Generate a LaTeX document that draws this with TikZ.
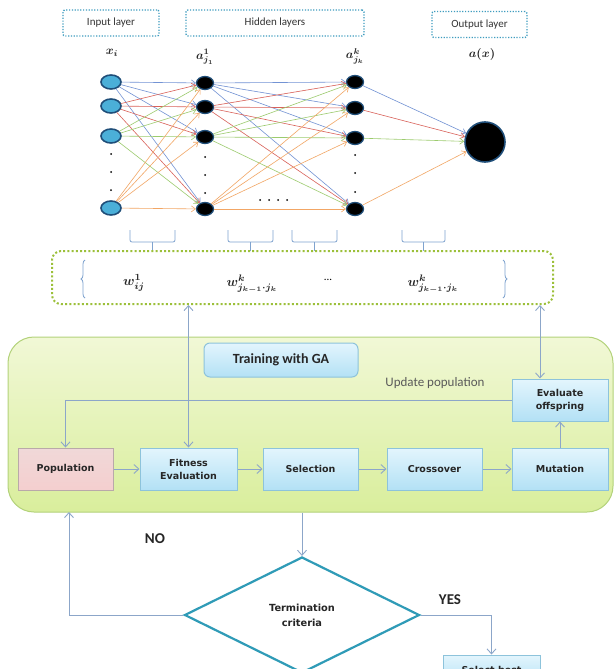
\documentclass[tikz,border=0pt]{standalone}
\usepackage{fontspec}
\setmainfont{Carlito}
\newfontfamily\boxfont{DejaVu Sans}
\usetikzlibrary{arrows.meta,shapes.geometric,decorations.pathreplacing}
\definecolor{labteal}{HTML}{3E9CBF}
\definecolor{wgreen}{HTML}{9CC03A}
\definecolor{inblue}{HTML}{4BAFD8}
\definecolor{nodeedge}{HTML}{1F4E79}
\definecolor{eblue}{HTML}{7393D4}
\definecolor{ered}{HTML}{D9625A}
\definecolor{egreen}{HTML}{9CCB6E}
\definecolor{eorange}{HTML}{F2A665}
\definecolor{arcol}{HTML}{8CA6C9}
\definecolor{brcol}{HTML}{7FA3CF}
\definecolor{gatop}{HTML}{F1F8D6}
\definecolor{gabot}{HTML}{D9EE9C}
\definecolor{gaedge}{HTML}{B3D27A}
\definecolor{bxtop}{HTML}{E3F5FD}
\definecolor{bxbot}{HTML}{B3E1F5}
\definecolor{bxedge}{HTML}{8DC3DB}
\definecolor{popfill}{HTML}{F0D8D8}
\definecolor{popedge}{HTML}{B9A9A9}
\definecolor{diaedge}{HTML}{2F9BB7}
\definecolor{txtgray}{HTML}{5A5A5A}
\tikzset{
  lbl/.style={draw=labteal, line width=1.4pt, dash pattern=on 1.2pt off 1.6pt, rounded corners=2pt,
    minimum height=26pt, inner sep=0pt, font=\fontsize{11}{13}\selectfont, text=black!80},
  innode/.style={ellipse, draw=nodeedge, line width=1.6pt, fill=inblue, minimum width=20pt, minimum height=14pt, inner sep=0pt},
  hidnode/.style={ellipse, draw=nodeedge, line width=1.3pt, fill=black, minimum width=17pt, minimum height=13pt, inner sep=0pt},
  outnode/.style={circle, draw=nodeedge, line width=1.6pt, fill=black, minimum size=40pt, inner sep=0pt},
  nn/.style={line width=0.6pt, -{Straight Barb[length=4pt,width=6pt]}},
  vdot/.style={circle, fill=black, inner sep=0pt, minimum size=2pt},
  mathlbl/.style={font=\boldmath, text=black!85, scale=1.2},
  wlbl/.style={font=\boldmath, text=black!85, scale=1.35},
  wbox/.style={draw=wgreen, line width=2pt, dash pattern=on 2pt off 2.2pt, rounded corners=9pt, inner sep=0pt},
  brc/.style={draw=brcol, line width=0.8pt},
  gabox/.style={draw=gaedge, line width=1pt, rounded corners=26pt, top color=gatop, bottom color=gabot, inner sep=0pt},
  stepbox/.style={draw=bxedge, line width=1pt, top color=bxtop, bottom color=bxbot, minimum width=96pt, minimum height=42pt,
    inner sep=1pt, align=center, font=\boxfont\bfseries\fontsize{9.5}{13}\selectfont, text=black!85},
  popbox/.style={stepbox, draw=popedge, top color=popfill, bottom color=popfill!90!red!80!white},
  titlebox/.style={draw=bxedge, line width=1pt, rounded corners=6pt, top color=bxtop, bottom color=bxbot,
    minimum width=154pt, minimum height=34pt, font=\bfseries\fontsize{14}{16}\selectfont, text=black!85},
  ar/.style={draw=arcol, line width=0.9pt, -{Straight Barb[length=5pt,width=9pt]}},
  ar2/.style={draw=arcol, line width=0.9pt, {Straight Barb[length=5pt,width=9pt]}-{Straight Barb[length=5pt,width=9pt]}},
  decision/.style={diamond, draw=diaedge, line width=2.2pt, fill=white, minimum width=235pt, minimum height=116pt,
    inner sep=0pt, align=center, font=\boxfont\bfseries\fontsize{9.8}{15}\selectfont, text=black!85},
  yn/.style={font=\bfseries\fontsize{15}{17}\selectfont, text=black!85}
}
\begin{document}
\begin{tikzpicture}[x=1pt,y=-1pt]
\useasboundingbox (0,0) rectangle (615,669);
\fill[white] (0,0) rectangle (615,669);
\clip (0,0) rectangle (615,669);

% layer labels
\node[lbl, minimum width=96pt] (inlab) at (111,23) {Input layer};
\node[lbl, minimum width=178pt] (hidlab) at (275,23) {Hidden layers};
\node[lbl, minimum width=95pt] (outlab) at (479.5,24.5) {Output layer};
\node[mathlbl] (xl) at (112,53) {$x_i$};
\node[mathlbl] (a1l) at (205,57) {$a^{1}_{j_1}$};
\node[mathlbl] (akl) at (355,56) {$a^{k}_{j_k}$};
\node[mathlbl] (axl) at (482,55) {$a(x)$};

% network nodes
\foreach \i/\y in {1/82,2/106,3/136,4/208} \node[innode] (i\i) at (111,\y) {};
\foreach \i/\y in {1/83,2/107,3/137,4/209} \node[hidnode] (h\i) at (205,\y) {};
\foreach \i/\y in {1/82,2/108,3/138,4/209} \node[hidnode] (k\i) at (355,\y) {};
\node[outnode] (o) at (485,142) {};

% connections
\foreach \s/\c in {1/eblue,2/ered,3/egreen,4/eorange}{
  \foreach \t in {1,...,4}{
    \draw[nn,\c] (i\s) -- (h\t);
    \draw[nn,\c] (h\s) -- (k\t);
  }
  \draw[nn,\c] (k\s) -- (o);
}

% vertical dots
\foreach \x/\a/\b/\c in {111/154/172/190,205/157/175/193,355/155/173/192}{
  \node[vdot] at (\x,\a) {};
  \node[vdot] at (\x,\b) {};
  \node[vdot] at (\x,\c) {};
}
\foreach \x in {260,269,278,287} \node[vdot] at (\x,200) {};

% braces above weight vector
\foreach \a/\b in {130/175,228/273,292/337,402/445}{
  \draw[brc, rounded corners=2pt] (\a,230) |- ({(\a+\b)/2},242) -| (\b,230);
  \draw[brc] ({(\a+\b)/2},242) -- ({(\a+\b)/2},251);
}

% weight vector box
\node[wbox, minimum width=501pt, minimum height=53pt] (wbox) at (302.5,277.5) {};
\draw[brc, decorate, decoration={brace, amplitude=4pt}] (85,298) -- (85,260);
\draw[brc, decorate, decoration={brace, amplitude=4pt}] (503,260) -- (503,298);
\node[wlbl] (w1) at (134,283) {$w^{1}_{ij}$};
\node[wlbl] (w2) at (252,284) {$w^{k}_{j_{k-1}\cdot j_k}$};
\node[font=\fontsize{11}{13}\selectfont] (wd) at (328,280) {...};
\node[wlbl] (w3) at (433,284) {$w^{k}_{j_{k-1}\cdot j_k}$};

% GA box
\node[gabox, minimum width=605pt, minimum height=175pt] (ga) at (310.5,424.5) {};
\node[titlebox] (title) at (281,360) {Training with GA};
\node[font=\fontsize{13}{15}\selectfont, text=txtgray] (upd) at (435,383) {Update population};

\node[popbox, minimum width=95pt] (pop) at (65.5,469) {Population};
\node[stepbox, minimum width=97pt] (fit) at (188.5,469) {Fitness\\Evaluation};
\node[stepbox, minimum width=95pt] (sel) at (310.5,469) {Selection};
\node[stepbox, minimum width=95pt] (cro) at (434.5,469) {Crossover};
\node[stepbox] (mut) at (560,469) {Mutation};
\node[stepbox] (eva) at (560,400) {Evaluate\\offspring};

\draw[ar] (pop) -- (fit);
\draw[ar] (fit) -- (sel);
\draw[ar] (sel) -- (cro);
\draw[ar] (cro) -- (mut);
\draw[ar] (mut) -- (eva);
\draw[ar] (eva.west) -- (pop.north |- eva.west) -- (pop.north);
\draw[ar2] (wbox.south -| fit.north) -- (fit.north);
\draw[ar2] ([xshift=-20pt]eva.north |- wbox.south) -- ([xshift=-20pt]eva.north);

% termination
\node[decision] (dia) at (302,615) {Termination\\criteria};
\coordinate (noend) at (69,512);
\node[stepbox, minimum width=97pt, minimum height=30pt] (best) at (491.5,670) {Select best};
\draw[ar] (dia.north |- ga.south) -- (dia.north);
\draw[ar] (dia.west) -| (noend);
\draw[ar] (dia.east) -| (best.north);
\node[yn] (no) at (155,539) {NO};
\node[yn] (yes) at (450,600) {YES};
\end{tikzpicture}
\end{document}
